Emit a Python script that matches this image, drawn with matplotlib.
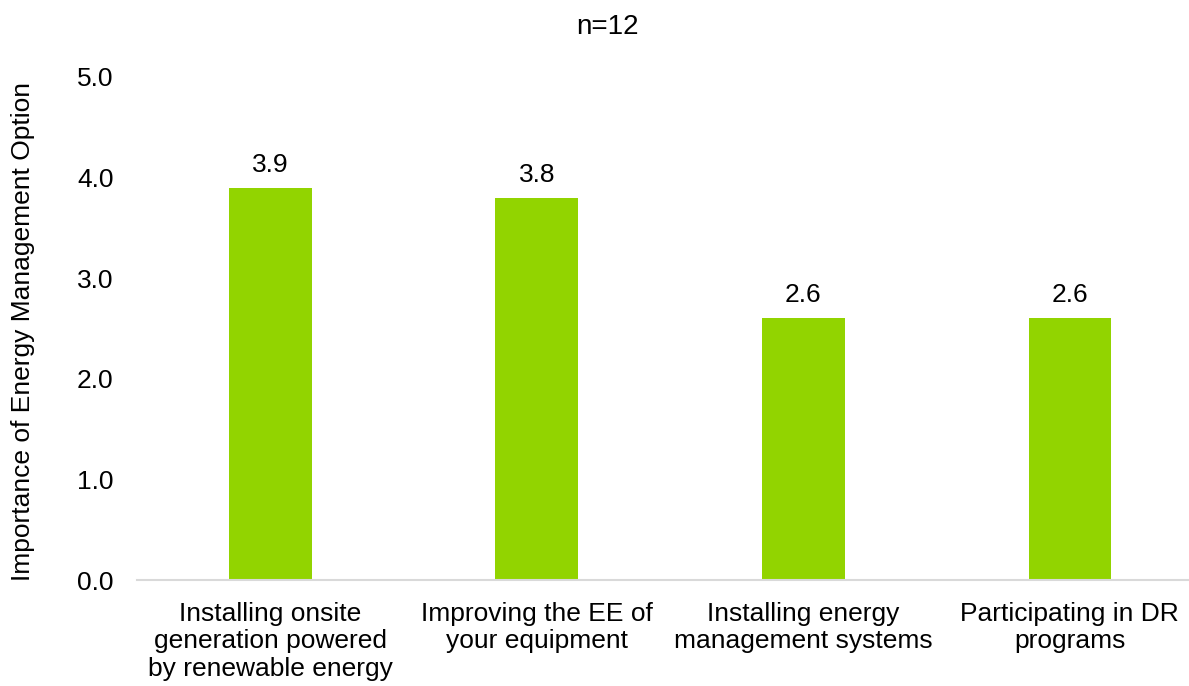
import matplotlib
matplotlib.use("Agg")
import matplotlib.pyplot as plt

categories = [
    "Installing onsite\ngeneration powered\nby renewable energy",
    "Improving the EE of\nyour equipment",
    "Installing energy\nmanagement systems",
    "Participating in DR\nprograms",
]
scores = [3.9, 3.8, 2.6, 2.6]
y_ticks = [0.0, 1.0, 2.0, 3.0, 4.0, 5.0]

plt.rcParams['font.family'] = ['Liberation Sans', 'DejaVu Sans']

fig = plt.figure(figsize=(11.89, 6.86), dpi=100)
# axes: left at x=137px, baseline y=580, top (5.0) y=77, runs off right edge
ax = fig.add_axes([137 / 1189, 1 - 580 / 686, (1189 - 137) / 1189, (580 - 77) / 686])

x = list(range(len(categories)))
ax.bar(x, scores, width=0.31, color='#92D400')
for xi, v in zip(x, scores):
    ax.annotate(f"{v:.1f}", (xi, v), xytext=(0, 8), textcoords='offset points',
                ha='center', va='bottom', fontsize=19)

ax.set_xlim(-0.5, 3.447)
ax.set_ylim(0, 5.0)
ax.set_yticks(y_ticks)
ax.set_yticklabels([f"{t:.1f}" for t in y_ticks], fontsize=19)
ax.set_xticks(x)
ax.set_xticklabels(categories, fontsize=19, linespacing=1.17)
ax.tick_params(length=0)
ax.tick_params(axis='x', pad=16)
ax.tick_params(axis='y', pad=17)

for s in ['top', 'right', 'left']:
    ax.spines[s].set_visible(False)
ax.spines['bottom'].set_color('#D9D9D9')
ax.spines['bottom'].set_linewidth(1.5)

ax.set_ylabel("Importance of Energy Management Option", fontsize=19)
ax.yaxis.set_label_coords(-0.097, 0.495)
fig.text(607 / 1189, 1 - 27 / 686, "n=12", ha='center', va='center', fontsize=20)

fig.savefig("out.png", dpi=100)
